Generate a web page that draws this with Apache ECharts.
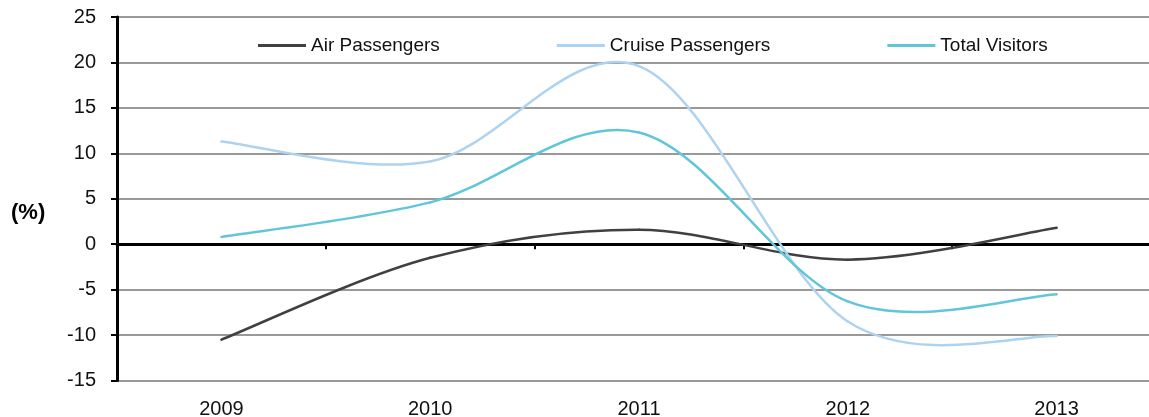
<!DOCTYPE html>
<html>
<head>
<meta charset="utf-8">
<script src="https://cdn.jsdelivr.net/npm/echarts@6/dist/echarts.min.js"></script>
<style>
html,body{margin:0;padding:0;background:#fff;overflow:hidden;width:1149px;height:417px;}
#chart{width:1165px;height:417px;}
</style>
</head>
<body>
<div id="chart"></div>
<script>
const categories = ['2009', '2010', '2011', '2012', '2013'];
const airPassengers = [-10.5, -1.5, 1.6, -1.7, 1.8];
const cruisePassengers = [11.3, 9.1, 19.6, -8.5, -10.1];
const totalVisitors = [0.8, 4.6, 12.3, -6.3, -5.5];
const seriesNames = ['Air Passengers', 'Cruise Passengers', 'Total Visitors'];
const yMin = -15, yMax = 25, yStep = 5;

const font = 'Liberation Sans, Arial, sans-serif';
const chart = echarts.init(document.getElementById('chart'), null, {renderer: 'canvas'});

// Excel-like smoothed line (Catmull-Rom -> cubic Bezier), mapped through the chart's axes
function mk(name, values, color) {
  return {
    name: name, type: 'custom', xAxisIndex: 0, yAxisIndex: 0, z: 3,
    data: values.map((v, i) => [i, v]),
    encode: {x: 0, y: 1},
    itemStyle: {color: color},
    renderItem: function (params, api) {
      const i = params.dataIndex;
      const n = values.length;
      if (i >= n - 1) return {type: 'group', children: []};
      const pt = j => {
        const k = Math.max(0, Math.min(n - 1, j));
        return api.coord([k, values[k]]);
      };
      const p0 = pt(i - 1), p1 = pt(i), p2 = pt(i + 1), p3 = pt(i + 2);
      const t = 1 / 6;
      return {
        type: 'bezierCurve',
        shape: {
          x1: p1[0], y1: p1[1], x2: p2[0], y2: p2[1],
          cpx1: p1[0] + (p2[0] - p0[0]) * t, cpy1: p1[1] + (p2[1] - p0[1]) * t,
          cpx2: p2[0] - (p3[0] - p1[0]) * t, cpy2: p2[1] - (p3[1] - p1[1]) * t
        },
        style: {stroke: color, lineWidth: 2.5, fill: null, lineCap: 'round'},
        silent: true
      };
    }
  };
}
chart.setOption({
  animation: false,
  backgroundColor: '#fff',
  textStyle: {fontFamily: font},
  grid: {left: 117, right: 4, top: 17, bottom: 36.5, containLabel: false, outerBoundsMode: 'none'},
  legend: {
    left: 258, top: 36, padding: 0, itemWidth: 48, itemHeight: 3, itemGap: 117, icon: 'rect',
    textStyle: {fontSize: 19, color: '#111', fontFamily: font},
    data: seriesNames
  },
  graphic: [{
    type: 'text', left: 11, top: 202,
    style: {text: '(%)', font: 'bold 22px ' + font, fill: '#000'}
  }],
  xAxis: [{
    type: 'category', data: categories, position: 'bottom',
    axisLine: {show: false, onZero: false}, axisTick: {show: false},
    axisLabel: {fontSize: 20, color: '#111', margin: 19, fontFamily: font},
    splitLine: {show: false}
  }, {
    type: 'category', data: categories, position: 'bottom',
    axisLine: {show: true, onZero: true, lineStyle: {color: '#000', width: 3}},
    axisTick: {show: true, length: 5, lineStyle: {color: '#000', width: 2}},
    axisLabel: {show: false}, splitLine: {show: false}
  }],
  yAxis: {
    type: 'value', min: yMin, max: yMax, interval: yStep,
    axisLine: {show: true, lineStyle: {color: '#000', width: 3}},
    axisTick: {show: true, length: 6, lineStyle: {color: '#000', width: 2}},
    axisLabel: {fontSize: 20, color: '#111', margin: 21, fontFamily: font, padding: [4, 0, 0, 0]},
    splitLine: {show: true, lineStyle: {color: '#999', width: 2}}
  },
  series: [
    mk(seriesNames[0], airPassengers, '#404040'),
    mk(seriesNames[1], cruisePassengers, '#aed3f0'),
    mk(seriesNames[2], totalVisitors, '#62c6db')
  ]
});
</script>
</body>
</html>
